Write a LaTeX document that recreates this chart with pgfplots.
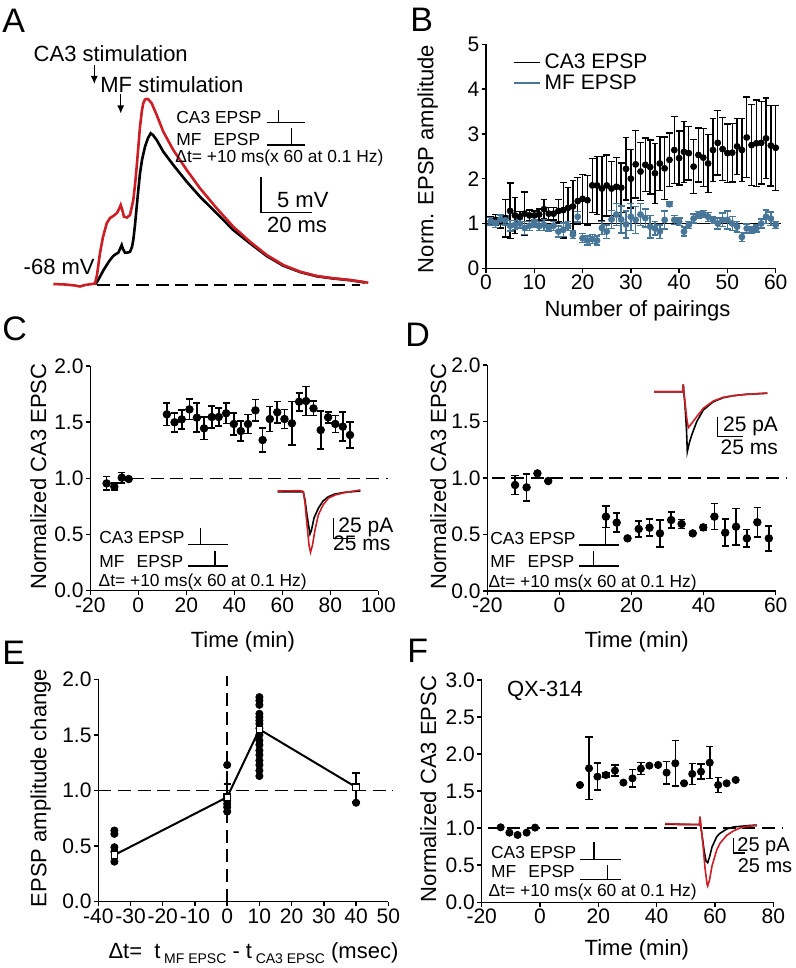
\documentclass[border=0pt]{standalone}
\usepackage{fontspec}
\setmainfont{Liberation Sans}
\usepackage{pgfplots}
\usepackage{pgfplotstable}
\pgfplotsset{compat=1.18}
\usetikzlibrary{arrows.meta}
\definecolor{mfblue}{RGB}{72,118,153}
\definecolor{tred}{RGB}{205,30,38}

\pgfplotsset{
 panel/.style={
  scale only axis, clip=false, anchor=south west,
  axis lines*=left, tick align=outside,
  axis line style={line width=0.75pt},
  every tick/.style={black,line width=0.75pt},
  major tick length=2.2pt,
  tick label style={font=\fontsize{10.5}{12}\selectfont, inner sep=1pt},
  /pgf/number format/assume math mode=true,
  label style={font=\fontsize{11}{13}\selectfont},
  xlabel style={anchor=center},
  ylabel style={anchor=center},
 },
 onedec/.style={yticklabel style={/pgf/number format/fixed,/pgf/number format/fixed zerofill,/pgf/number format/precision=1}},
 ebar/.style={/pgfplots/error bars/y dir=both, /pgfplots/error bars/y explicit,
   /pgfplots/error bars/error bar style={line width=0.8pt},
   /pgfplots/error bars/error mark options={rotate=90, mark size=1.8pt, line width=0.8pt}},
 ebarB/.style={/pgfplots/error bars/y dir=both, /pgfplots/error bars/y explicit,
   /pgfplots/error bars/error bar style={line width=0.7pt},
   /pgfplots/error bars/error mark options={rotate=90, mark size=1.7pt, line width=0.7pt}},
 dline/.style={black, line width=0.75pt, dash pattern=on 6.5pt off 3.3pt},
}

\pgfplotstableread{
x y e
1 1.05 0.10
2 1.08 0.12
3 1.05 0.15
4 1.12 0.42
5 1.28 0.62
6 1.18 0.40
7 1.15 0.12
8 1.22 0.48
9 1.18 0.12
10 1.18 0.10
11 1.20 0.12
12 1.32 0.22
13 1.22 0.14
14 1.22 0.14
15 1.28 0.25
16 1.30 0.62
17 1.35 0.45
18 1.38 0.58
19 1.50 0.52
20 1.55 0.55
21 1.52 0.55
22 1.85 0.60
23 1.85 0.65
24 1.78 0.72
25 1.85 0.68
26 1.78 0.60
27 1.82 0.65
28 1.80 0.55
29 2.22 0.70
30 2.00 0.65
31 2.32 0.75
32 2.16 0.65
33 2.31 0.60
34 2.26 0.60
35 2.12 0.67
36 2.34 0.60
37 2.23 0.70
38 2.42 0.60
39 2.64 0.75
40 2.46 0.60
41 2.60 0.68
42 2.57 0.60
43 2.27 0.60
44 2.53 0.60
45 2.47 0.65
46 2.34 0.65
47 2.64 0.70
48 2.80 0.72
49 2.66 0.70
50 2.57 0.65
51 2.58 0.65
52 2.72 0.62
53 2.64 0.70
54 2.92 0.90
55 2.75 0.90
56 2.79 0.97
57 2.80 0.92
58 2.90 0.90
59 2.74 0.90
60 2.69 0.95
}\Bblack

\pgfplotstableread{
x y e
1 1.05 0.08
2 1.01 0.10
3 1.09 0.10
4 1.07 0.10
5 0.95 0.12
6 0.97 0.10
7 1.00 0.10
8 0.90 0.15
9 0.95 0.10
10 1.00 0.08
11 0.94 0.10
12 0.97 0.12
13 0.90 0.08
14 0.95 0.10
15 0.82 0.12
16 0.86 0.15
17 0.94 0.10
18 0.75 0.08
19 1.15 0.12
20 0.67 0.10
21 0.62 0.10
22 0.65 0.10
23 0.62 0.10
24 0.90 0.15
25 0.82 0.15
26 1.09 0.20
27 1.20 0.25
28 1.09 0.30
29 0.98 0.30
30 1.15 0.30
31 1.08 0.30
32 1.20 0.25
33 1.12 0.20
34 0.93 0.25
35 0.89 0.15
36 0.82 0.15
37 1.08 0.20
38 1.43 0.05
39 1.08 0.10
40 1.04 0.08
41 0.82 0.10
42 0.97 0.08
43 1.11 0.10
44 1.19 0.08
45 1.21 0.08
46 1.15 0.10
47 1.08 0.08
48 1.00 0.12
49 1.08 0.15
50 1.08 0.20
51 1.00 0.15
52 0.93 0.12
53 0.70 0.10
54 0.89 0.10
55 0.85 0.08
56 0.89 0.08
57 1.00 0.10
58 1.15 0.15
59 1.11 0.15
60 0.97 0.08
}\Bblue

\pgfplotstableread{
x y e
-13.2 0.955 0.06
-10.0 0.926 0.03
-6.9 1.006 0.045
-4.0 0.994 0.01
11.9 1.570 0.10
15.1 1.499 0.085
18.1 1.525 0.085
21.3 1.614 0.09
24.4 1.540 0.13
27.4 1.445 0.10
30.6 1.546 0.10
33.5 1.546 0.08
36.6 1.579 0.09
39.8 1.484 0.10
42.7 1.421 0.09
45.7 1.484 0.085
48.8 1.605 0.095
51.8 1.341 0.105
54.8 1.528 0.11
57.9 1.588 0.095
60.9 1.528 0.085
64.0 1.490 0.195
67.0 1.682 0.08
69.9 1.688 0.13
73.0 1.623 0.065
76.0 1.430 0.17
79.1 1.543 0.05
82.1 1.484 0.075
85.2 1.460 0.13
88.2 1.386 0.115
}\Cdata

\pgfplotstableread{
x y e
-12.3 0.938 0.085
-9.1 0.917 0.12
-6.1 1.041 0.0
-3.1 0.973 0.0
12.9 0.658 0.095
15.9 0.605 0.083
18.9 0.466 0.015
22.0 0.549 0.07
25.0 0.560 0.075
27.9 0.510 0.12
31.0 0.628 0.07
33.9 0.593 0.04
37.0 0.510 0.015
39.9 0.563 0.025
43.0 0.658 0.115
46.0 0.516 0.12
49.0 0.569 0.16
52.0 0.466 0.078
54.9 0.608 0.13
58.1 0.466 0.11
}\Ddata

\pgfplotstableread{
x y
-35 0.64
-35 0.61
-35 0.49
-35 0.45
-35 0.36
0 1.23
0 0.94
0 0.91
0 0.88
0 0.85
0 0.81
10 1.84
10 1.81
10 1.77
10 1.69
10 1.66
10 1.63
10 1.60
10 1.56
10 1.50
10 1.45
10 1.41
10 1.36
10 1.32
10 1.27
10 1.23
10 1.18
10 1.13
40 1.03
40 0.89
}\Edots

\pgfplotstableread{
x y e
-35 0.42 0.07
0 0.94 0.12
10 1.55 0.05
40 1.03 0.13
}\Emean

\pgfplotstableread{
x y e
-13.5 1.012 0
-10.5 0.940 0
-7.7 0.909 0
-4.6 0.940 0
-1.7 1.008 0
13.7 1.583 0
16.8 1.808 0.42
19.7 1.696 0.18
22.6 1.718 0.03
25.7 1.777 0.075
28.6 1.615 0
31.7 1.673 0.12
34.6 1.804 0.08
37.5 1.844 0
40.5 1.853 0
43.4 1.750 0.15
46.4 1.876 0.31
49.4 1.606 0
52.2 1.732 0.14
55.2 1.763 0.10
58.2 1.885 0.215
61.1 1.583 0.10
64.0 1.606 0
67.1 1.651 0
}\Fdata

\begin{document}
\begin{tikzpicture}
\path[use as bounding box] (0,0) rectangle (398pt,484pt);

% ---------------- B
\begin{axis}[panel, at={(243pt,349.85pt)}, width=144.85pt, height=112pt,
  xmin=0, xmax=60, ymin=0, ymax=5, xtick={0,10,...,60}, ytick={0,1,...,5},
  xlabel={Number of pairings}, ylabel={Norm. EPSP amplitude},
  xlabel style={at={(axis description cs:0.523,-0.19)}},
  ylabel style={at={(axis description cs:-0.201,0.488)}},
  legend style={at={(axis description cs:0.07,0.995)}, anchor=north west, draw=none, fill=none,
    font=\fontsize{10.5}{12}\selectfont, row sep=-2.5pt},
  legend cell align=left,
  legend image code/.code={\draw[#1] (0pt,0pt) -- (13pt,0pt);}]
\addplot[black, line width=0.6pt, forget plot] coordinates {(0,1) (61,1)};
\addplot[black, only marks, mark=*, mark size=1.5pt, ebarB, forget plot] table[x=x,y=y,y error=e] {\Bblack};
\addplot[mfblue, only marks, mark=*, mark size=1.5pt, ebarB, forget plot] table[x=x,y=y,y error=e] {\Bblue};
\addlegendimage{black, line width=0.8pt}
\addlegendentry{CA3 EPSP}
\addlegendimage{mfblue, line width=1pt}
\addlegendentry{MF EPSP}
\end{axis}

% ---------------- C
\begin{axis}[panel, onedec, at={(45.15pt,188.65pt)}, width=144pt, height=112.35pt,
  xmin=-20, xmax=100, ymin=0, ymax=2, xtick={-20,0,...,100}, ytick={0,0.5,...,2},
  xlabel={Time (min)}, ylabel={Normalized CA3 EPSC},
  xlabel style={at={(axis description cs:0.530,-0.228)}},
  ylabel style={at={(axis description cs:-0.181,0.507)}}]
\addplot[dline] coordinates {(-3,1) (104,1)};
\addplot[black, only marks, mark=*, mark size=1.9pt, ebar] table[x=x,y=y,y error=e] {\Cdata};
\end{axis}

% ---------------- D
\begin{axis}[panel, onedec, at={(243.65pt,188.5pt)}, width=144.2pt, height=113pt,
  xmin=-20, xmax=60, ymin=0, ymax=2, xtick={-20,0,...,60}, ytick={0,0.5,...,2},
  xlabel={Time (min)}, ylabel={Normalized CA3 EPSC},
  xlabel style={at={(axis description cs:0.518,-0.226)}},
  ylabel style={at={(axis description cs:-0.170,0.506)}}]
\addplot[dline] coordinates {(-18.8,1) (63,1)};
\addplot[black, only marks, mark=*, mark size=1.9pt, ebar] table[x=x,y=y,y error=e] {\Ddata};
\end{axis}

% ---------------- E
\begin{axis}[panel, onedec, at={(49.15pt,33.15pt)}, width=145pt, height=111.2pt,
  xmin=-40, xmax=50, ymin=0, ymax=2, xtick={-40,-30,...,50}, ytick={0,0.5,...,2},
  xlabel={Δt=\ \ t\,{\fontsize{7}{8}\selectfont\raisebox{-2.4pt}{MF EPSC}}\ - t\,{\fontsize{7}{8}\selectfont\raisebox{-2.4pt}{CA3 EPSC}}\ (msec)},
  ylabel={EPSP amplitude change},
  xlabel style={at={(axis description cs:0.535,-0.231)}},
  ylabel style={at={(axis description cs:-0.199,0.511)}}]
\addplot[dline] coordinates {(-40,1) (51.5,1)};
\addplot[dline] coordinates {(0,0) (0,2.03)};
\addplot[black, only marks, mark=*, mark size=1.8pt] table[x=x,y=y] {\Edots};
\addplot[black, line width=1pt, mark=square*, mark size=1.6pt, mark options={fill=white, line width=0.6pt}, ebar] table[x=x,y=y,y error=e] {\Emean};
\end{axis}

% ---------------- F
\begin{axis}[panel, onedec, at={(240.85pt,32.85pt)}, width=145.8pt, height=111.15pt,
  xmin=-20, xmax=80, ymin=0, ymax=3, xtick={-20,0,...,80}, ytick={0,0.5,...,3},
  xlabel={Time (min)}, ylabel={Normalized CA3 EPSC},
  xlabel style={at={(axis description cs:0.532,-0.215)}},
  ylabel style={at={(axis description cs:-0.183,0.51)}}]
\addplot[dline] coordinates {(-18,1) (83,1)};
\addplot[black, only marks, mark=*, mark size=1.8pt, ebar] table[x=x,y=y,y error=e] {\Fdata};
\end{axis}

% ---------------- overlay in pixel units (A traces, insets, annotations)
\begin{axis}[at={(0pt,0pt)}, anchor=south west, scale only axis, width=398pt, height=484pt,
  xmin=0, xmax=796, ymin=0, ymax=968, y dir=reverse, hide axis, clip=false]
% A traces
\addplot[dline] coordinates {(96.7,285) (360,285)};
\addplot[black, line width=1.3pt] coordinates {(95,284.5)(97,282)(100,276.7)(103,271)(106.7,265)(110,260)(113.3,256)(116,254)(118.3,252.7)(120,249)(121.7,245)(123,249)(125,252.7)(128,252.5)(130,251.7)(132,247)(133.3,240)(135,225)(136.7,206.7)(138.5,188)(140,173.3)(142,160)(145,146.7)(148,138)(150.7,133.3)(153,135)(156.7,140)(163.3,151.7)(173.3,165)(186.7,181.7)(200,196.7)(216.7,213.3)(233.3,230)(250,243.3)(266.7,256)(283.3,265.7)(300,272)(316.7,276.3)(333.3,278.5)(350,280.2)(365,282.5)};
\addplot[tred, line width=1.3pt] coordinates {(53.3,284)(65,284.5)(75,285.5)(80,286.5)(85,285)(92,284)(95,283.5)(97,275)(100,253)(103,237)(106.7,223.3)(110,218)(113.3,216)(117,213)(119.5,208)(120.7,205)(122,209)(124,216.7)(127,217.5)(130,215)(133.3,200)(135,185)(136.7,166.7)(138.5,145)(140,126.7)(142,110)(143.3,103.3)(145,99.5)(146.7,99)(148.5,99.5)(151.7,103.3)(156.7,115)(163.3,131.7)(173.3,150)(186.7,170)(200,188.3)(216.7,208.3)(233.3,226.7)(250,241.7)(266.7,255)(283.3,265)(300,271.7)(316.7,276)(333.3,278.3)(350,280)(368.3,282.7)};
% C inset traces
\addplot[black, line width=0.8pt] coordinates {(277.7,491.7)(300,491.7)(303.3,492)(305,500)(307,515)(309,528)(310,534)(311.5,530)(314,518)(318.3,508.3)(323,501)(328.3,496.7)(335,494)(345,492.3)(360.3,491)};
\addplot[tred, line width=0.8pt] coordinates {(277.7,491)(300,490.7)(303.3,491.5)(305,503)(307,525)(309,545)(310.5,552.3)(312.5,545)(315,530)(318.3,515)(323,505)(328.3,498.3)(335,495)(345,492.5)(360.3,490)};
% D inset traces
\addplot[black, line width=0.8pt] coordinates {(654,391.7)(683,391.7)(683.3,384.3)(683.8,392)(685,405)(686.5,430)(687.3,451.7)(689,444)(691.7,435)(696.7,421.7)(703.3,410)(713.3,401.7)(723.3,397.7)(733.3,395.7)(746.7,394.3)(767.3,393.3)};
\addplot[tred, line width=0.8pt] coordinates {(654,391.7)(683,391.7)(683.3,384.3)(683.8,392)(685,402)(686.7,418)(688.3,427.7)(691.7,423.3)(696.7,416.7)(703.3,408.3)(713.3,401)(723.3,397.3)(733.3,395.7)(746.7,394.3)(767.3,393)};
% F inset traces
\addplot[black, line width=0.8pt] coordinates {(665,824.3)(699.5,824.7)(700,816.7)(700.5,825)(702,835)(704,850)(706,861)(707.7,862.7)(709.5,857)(712,847)(716.7,836.7)(720,833.3)(726.7,829)(733.3,827)(746.7,825.7)(756.7,825)};
\addplot[tred, line width=0.8pt] coordinates {(665,823.7)(699.5,824.5)(700,817)(701,826)(703,845)(705,868)(707,884)(707.7,886)(709.5,880)(712,866)(716.7,850)(720,843.3)(726.7,835.3)(733.3,831)(740,828)(746.7,826.3)(756.7,825.7)};

% panel letters
\begin{scope}[every node/.style={anchor=base west, inner sep=0pt, font=\fontsize{17}{20}\selectfont}]
\node at (2,33) {A};
\node at (410,32) {B};
\node at (2,340) {C};
\node at (405,346) {D};
\node at (2,664) {E};
\node at (407,662) {F};
\end{scope}

% A annotations
\begin{scope}[every node/.style={anchor=base west, inner sep=0pt, font=\fontsize{11}{13}\selectfont}]
\node at (33.3,61.2) {CA3 stimulation};
\node at (100,92.9) {MF stimulation};
\node at (276.7,207.9) {5 mV};
\node at (266.7,232.9) {20 ms};
\node at (23.3,274.6) {-68 mV};
\node at (506.7,696.2) {QX-314};
\end{scope}
\draw[line width=0.6pt, -{Latex[length=4pt,width=3.5pt]}] (94.3,65) -- (94.3,84);
\draw[line width=0.6pt, -{Latex[length=4pt,width=3.5pt]}] (120.7,94) -- (120.7,113.5);
\draw[line width=0.75pt] (261,176.7) -- (261,212.3) -- (311.7,212.3);

% stimulation-protocol insets
\begin{scope}[every node/.style={anchor=base west, inner sep=0pt, font=\fontsize{8.7}{10}\selectfont}]
\node at (176,123.5) {CA3 EPSP};
\node at (176,145.5) {MF\hspace{0.7em}EPSP};
\node at (175,163) {Δt= +10 ms(x 60 at 0.1 Hz)};
\node at (99,543.9) {CA3 EPSP};
\node at (99,567.9) {MF\hspace{0.7em}EPSP};
\node at (98.3,586.9) {Δt= +10 ms(x 60 at 0.1 Hz)};
\node at (490,544.5) {CA3 EPSP};
\node at (490,567.9) {MF\hspace{0.7em}EPSP};
\node at (488.3,587.9) {Δt= +10 ms(x 60 at 0.1 Hz)};
\node at (490.7,858.9) {CA3 EPSP};
\node at (490.7,877.9) {MF\hspace{0.7em}EPSP};
\node at (488.3,896.9) {Δt= +10 ms(x 60 at 0.1 Hz)};
\end{scope}
\begin{scope}[line width=0.6pt]
\draw (266.7,122.7) -- (305,122.7); \draw (278.3,110) -- (278.3,122.7);
\draw (266.7,145) -- (305,145); \draw (291.7,128.3) -- (291.7,145);
\draw (188.3,544.3) -- (228.3,544.3); \draw (200.7,527.7) -- (200.7,544.3);
\draw (188.3,566) -- (228.3,566); \draw (215,551) -- (215,566);
\draw (579.3,545) -- (619.3,545); \draw (605.3,528) -- (605.3,545);
\draw (579.3,566) -- (619.3,566); \draw (593.3,551) -- (593.3,566);
\draw (580,859.3) -- (620.7,859.3); \draw (594,842) -- (594,859.3);
\draw (580,879.3) -- (620.7,879.3); \draw (607.3,865) -- (607.3,879.3);
\end{scope}

% EPSC scale bars
\begin{scope}[every node/.style={inner sep=0pt, font=\fontsize{10.5}{12}\selectfont}]
\draw[line width=0.6pt] (333.3,518.3) -- (333.3,538.3) -- (355,538.3);
\node[anchor=base west] at (338,532) {25 pA};
\node[anchor=base] at (361.7,550.7) {25 ms};
\draw[line width=0.6pt] (717.3,416.7) -- (717.3,436.7) -- (743.3,436.7);
\node[anchor=base west] at (722.7,431) {25 pA};
\node[anchor=base] at (749.2,454.3) {25 ms};
\end{scope}
\begin{scope}[every node/.style={inner sep=0pt, font=\fontsize{10}{11}\selectfont}]
\draw[line width=0.6pt] (733.3,838) -- (733.3,853) -- (745,853);
\node[anchor=base west] at (737,851) {25 pA};
\node[anchor=base] at (765,872) {25 ms};
\end{scope}
\end{axis}
\end{tikzpicture}
\end{document}
